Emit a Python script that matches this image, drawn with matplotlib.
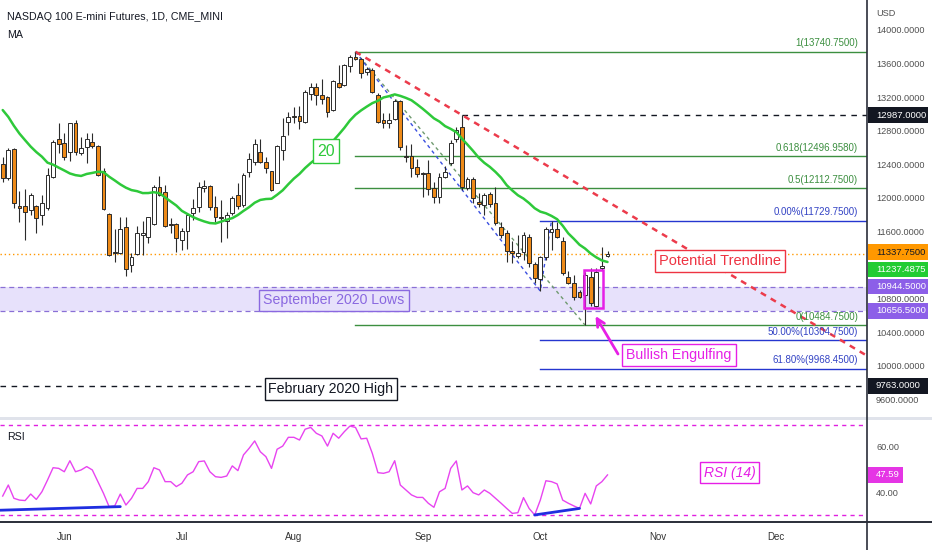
import numpy as np
import matplotlib
matplotlib.use("Agg")
import matplotlib.pyplot as plt
from matplotlib.patches import Rectangle
from matplotlib.lines import Line2D

# ---------------- data (NQ1! daily, 16 May - 19 Oct 2022) ----------------
opens = [12400, 12235, 12580, 11905, 11905, 11856, 11904, 11797, 11877, 12246,
         12698, 12658, 12551, 12889, 12539, 12610, 12670, 12622, 12324, 11809,
         11360, 11341, 11650, 11202, 11332, 11559, 11531, 11690, 12134, 12074,
         11690, 11690, 11499, 11606, 11817, 11896, 12115, 12146, 11896, 11777,
         11729, 11817, 12035, 11916, 12313, 12432, 12551, 12432, 12321, 12182,
         12571, 12908, 12976, 12976, 12908, 13238, 13325, 13226, 13198, 13047,
         13372, 13345, 13571, 13682, 13651, 13503, 13524, 13226, 12928, 12889,
         12936, 13158, 12500, 12500, 12372, 12300, 12300, 12115, 12015, 12253,
         12413, 12698, 12848, 12115, 12222, 11955, 11916, 12043, 11936, 11658,
         11586, 11372, 11309, 11360, 11531, 11213, 11031, 11300, 11598, 11627,
         11491, 11062, 10984, 10876, 10844, 11062, 10717, 11162, 11310]
highs = [12490, 12590, 12590, 12086, 12103, 12055, 11916, 12035, 12353, 12690,
         12889, 12770, 12896, 12928, 12729, 12770, 12770, 12630, 12353, 11817,
         11626, 11777, 11777, 11340, 11666, 11729, 11777, 12154, 12261, 12154,
         11757, 11698, 11638, 11817, 11984, 12193, 12214, 12154, 12023, 11976,
         11836, 12023, 12182, 12300, 12532, 12702, 12698, 12491, 12324, 12630,
         12952, 13027, 13087, 13095, 13285, 13365, 13372, 13413, 13214, 13405,
         13583, 13595, 13700, 13740.75, 13663, 13556, 13544, 13246, 13015, 13008,
         13175, 13166, 12630, 12642, 12460, 12313, 12451, 12193, 12293, 12380,
         12690, 12848, 12987.75, 12253, 12253, 12055, 12062, 12074, 12134, 11717,
         11618, 11491, 11559, 11598, 11571, 11241, 11310, 11658, 11729.75, 11717,
         11531, 11134, 11082, 10904, 11122, 11166, 11166, 11419, 11370]
lows = [12195, 12215, 11877, 11717, 11500, 11797, 11579, 11678, 11856, 12234,
        12532, 12451, 12443, 12511, 12511, 12420, 12591, 12261, 11856, 11309,
        11241, 11330, 11070, 11122, 11320, 11320, 11467, 11678, 12023, 11660,
        11579, 11360, 11380, 11388, 11737, 11836, 12074, 11856, 11717, 11479,
        11520, 11797, 11865, 11896, 12253, 12392, 12413, 12293, 12086, 12175,
        12451, 12750, 12889, 12817, 12896, 13166, 13107, 13119, 12967, 13039,
        13306, 13333, 13503, 13643, 13425, 13464, 13246, 12889, 12829, 12829,
        12928, 12571, 12432, 12253, 12253, 12015, 12035, 11936, 11936, 12234,
        12392, 12670, 12095, 12095, 11936, 11896, 11797, 11896, 11678, 11520,
        11241, 11222, 11281, 11261, 11181, 10984, 10895, 11261, 11380, 11520,
        11082, 10980, 10785, 10805, 10484.75, 10713, 10705, 11143, 11295]
closes = [12235, 12570, 11936, 11877, 11836, 12035, 11757, 11936, 12273, 12670,
          12642, 12484, 12889, 12551, 12598, 12705, 12619, 12273, 11865, 11320,
          11341, 11626, 11150, 11300, 11579, 11579, 11770, 12134, 12035, 11666,
          11674, 11527, 11610, 11797, 11877, 12134, 12146, 11889, 11770, 11757,
          11797, 12003, 11904, 12273, 12460, 12642, 12432, 12353, 12095, 12619,
          12738, 12967, 12960, 12920, 13265, 13325, 13226, 13175, 13027, 13393,
          13318, 13583, 13675, 13651, 13491, 13532, 13265, 12908, 12896, 12928,
          13158, 12610, 12484, 12353, 12285, 12285, 12103, 12015, 12253, 12313,
          12658, 12809, 12127, 12222, 11996, 11928, 12035, 11928, 11705, 11559,
          11372, 11348, 11348, 11559, 11222, 11043, 11298, 11627, 11627, 11531,
          11103, 10984, 10824, 10824, 11082, 10746, 11122, 11193, 11337.75]
# closes of the 19 sessions before the first visible bar (for the 20-day MA)
prior_closes = [14200, 14050, 13750, 13400, 13560, 13050, 13040, 13700, 13150, 13350,
                13160, 13600, 12950, 12790, 12230, 12370, 11990, 11960, 12400]
rsi = [38.2, 43.1, 37.2, 36.4, 36.2, 39.1, 36.7, 40.1, 45.3, 50.8,
       50.5, 49.0, 53.9, 49.0, 49.8, 51.3, 49.8, 44.6, 39.4, 33.5,
       33.8, 39.1, 34.2, 37.2, 41.6, 41.6, 44.6, 50.8, 49.8, 44.6,
       44.6, 42.4, 43.9, 47.6, 49.0, 53.5, 53.8, 49.0, 46.8, 46.5,
       47.1, 51.6, 49.5, 56.5, 59.4, 62.7, 57.9, 55.7, 50.5, 59.0,
       60.4, 64.3, 64.3, 63.1, 67.9, 68.7, 66.1, 64.9, 60.4, 66.1,
       63.9, 66.8, 69.3, 68.7, 63.6, 63.9, 57.2, 48.6, 48.3, 49.0,
       53.9, 43.1, 40.9, 38.7, 37.6, 37.6, 35.0, 33.2, 40.1, 41.6,
       50.5, 53.8, 40.9, 42.7, 39.7, 38.7, 40.9, 39.4, 37.2, 35.0,
       32.7, 30.5, 30.8, 37.5, 32.7, 29.8, 36.4, 45.0, 44.6, 43.6,
       36.4, 35.0, 33.8, 32.7, 39.4, 34.7, 42.7, 44.6, 47.59]

month_pos = [11, 32, 52, 75, 96, 117, 138]
month_labels = ['Jun', 'Jul', 'Aug', 'Sep', 'Oct', 'Nov', 'Dec']
price_ticks = [9600, 10000, 10400, 10800, 11200, 11600, 12000, 12400, 12800,
               13200, 13600, 14000]
hidden_ticks = [11200]          # covered by the price labels in the reference
rsi_ticks = [40, 60]
rsi_bands = [70, 30]

fib_high, fib_low, fib_start = 13740.75, 10484.75, 63
fib_ratios = [1, 0.618, 0.5, 0]
fib_low_idx = 104
ext_points_idx = [63, 96, 98]
ext_points_val = [13740.75, 10890.75, 11729.75]
ext_ratios = [0.0, 0.5, 0.618]
trend_idx = [63, 82]
trend_val = [13740.75, 12987.75]
sep_high_idx, sep_high = 82, 12987.0
zone_lo, zone_hi = 10656.5, 10944.5
feb_high = 9763.0
last_price = 11337.75
ma_len = 20
rsi_div = [([-0.5, 21], [31.9, 33.5]), ([95, 103], [29.8, 32.7])]

# ---------------- layout helpers ----------------
plt.rcParams['font.family'] = ['Liberation Sans', 'DejaVu Sans']
W, H = 932, 550
AXR = 867
PX0, PXS = 2.7, 5.6


def xi(px):
    return (px - PX0) / PXS


def yp(py):
    return 14357.2 - 11.908 * py


def yr(py):
    return 60 - (py - 447) / 2.25


fig = plt.figure(figsize=(W / 100, H / 100), dpi=100)
fig.patch.set_facecolor('white')
ax = fig.add_axes([0, 1 - 416 / H, AXR / W, 416 / H])
axr = fig.add_axes([0, 1 - 521 / H, AXR / W, (521 - 420) / H], sharex=ax)

for a in (ax, axr):
    for s in a.spines.values():
        s.set_visible(False)
    a.set_facecolor('white')

ax.set_xlim(xi(0), xi(AXR))
ax.set_ylim(yp(416), yp(0))
axr.set_ylim(yr(521), yr(420))

# ---------------- main panel ----------------
o = np.array(opens, float); h = np.array(highs, float)
l = np.array(lows, float); c = np.array(closes, float)
idx = np.arange(len(c))
up = c >= o
diff = np.abs(c - o)
bh = np.maximum(diff, 12)
blo = np.minimum(o, c) - (bh - diff) / 2

# purple zone
ax.axhspan(zone_lo, zone_hi, color='#e7e1fb', zorder=0.5, lw=0)
for v in (zone_lo, zone_hi):
    ax.axhline(v, color='#8a70d6', lw=0.9, ls=(0, (4, 3)), zorder=1)

# last price dotted line
ax.axhline(last_price, color='#ff9800', lw=1, ls=(0, (1, 2)), zorder=1)

# dashed black levels
ax.plot([sep_high_idx, xi(AXR) + 1], [sep_high, sep_high], color='#131722', lw=1,
        ls=(0, (4, 4)), zorder=1)
ax.axhline(feb_high, color='#131722', lw=1, ls=(0, (4, 4)), zorder=1)

# fib retracement (green)
green = '#3c8f40'
for r in fib_ratios:
    v = fib_low + r * (fib_high - fib_low)
    ax.plot([fib_start, xi(AXR) + 1], [v, v], color=green, lw=1, zorder=1.5)
    ax.annotate(f"{r:g}({v:.4f})", xy=(858 / W, v), xycoords=('figure fraction', 'data'),
                xytext=(0, 2.5), textcoords='offset points', ha='right', va='bottom',
                fontsize=7, color=green, zorder=6)
ax.plot([fib_start, fib_low_idx], [fib_high, fib_low], color='#6f9a6f', lw=1,
        ls=(0, (2.5, 2.5)), zorder=1.5)

# trend-based fib extension (blue)
blue = '#2536d0'
A, B, C = ext_points_val
ax.plot(ext_points_idx, ext_points_val, color='#3a4fe0', lw=1, ls=(0, (2.5, 2.5)), zorder=1.5)
for r in ext_ratios:
    v = C - r * (A - B)
    ax.plot([ext_points_idx[1], xi(AXR) + 1], [v, v], color=blue, lw=1, zorder=1.5)
    ax.annotate(f"{r * 100:.2f}%({v:.4f})", xy=(858 / W, v), xycoords=('figure fraction', 'data'),
                xytext=(0, 2.5), textcoords='offset points', ha='right', va='bottom',
                fontsize=7, color='#3343c4', zorder=6)

# red potential trendline
slope = (trend_val[1] - trend_val[0]) / (trend_idx[1] - trend_idx[0])
tx = np.array([trend_idx[0], xi(AXR) + 2])
ax.plot(tx, trend_val[0] + slope * (tx - trend_idx[0]), color='#ec3b4b', lw=1.8,
        ls=(0, (2.4, 2.2)), zorder=2)

# candles
ax.vlines(idx, l, h, color='#2b2b2b', lw=0.8, zorder=3)
ax.bar(idx, bh, bottom=blo, width=0.66, color=np.where(up, 'white', '#ee8a18'),
       edgecolor='#2b2b2b', linewidth=0.7, zorder=4)

# 20-day MA
allc = np.concatenate([np.array(prior_closes, float), c])
ma = np.convolve(allc, np.ones(ma_len) / ma_len, mode='valid')
ax.plot(idx, ma, color='#2ec93a', lw=1.8, zorder=5, solid_capstyle='round')

# pink highlight box + arrow
pink = '#e61fe6'
ax.add_patch(Rectangle((xi(584.3), yp(308)), xi(603.3) - xi(584.3), yp(270) - yp(308),
                       fill=False, ec=pink, lw=1.8, zorder=6))
ax.annotate('', xy=(xi(595.5), yp(316)), xytext=(xi(618), yp(354)),
            arrowprops=dict(arrowstyle='->', color=pink, lw=2, mutation_scale=14,
                            shrinkA=0, shrinkB=0), zorder=6)


# text boxes
def tbox(a, x, y, s, col, fc='white', size=10.5, **kw):
    a.text(x, y, s, ha='center', va='center', color=col, fontsize=size, zorder=7,
           bbox=dict(boxstyle='square,pad=0.28', fc=fc, ec=col, lw=1), **kw)


tbox(ax, xi(720), yp(261), 'Potential Trendline', '#ee3342')
tbox(ax, xi(334), yp(300.5), 'September 2020 Lows', '#8a68e0', fc='#e7e1fb', size=10.2)
tbox(ax, xi(331), yp(389), 'February 2020 High', '#131722', size=10.2)
tbox(ax, xi(679), yp(355), 'Bullish Engulfing', pink, size=10.2)
tbox(ax, xi(326), yp(151), str(ma_len), '#2ec93a', size=11.5)

# right axis of main panel
ax.yaxis.tick_right()
ax.set_yticks(price_ticks)
ax.set_yticklabels(['' if v in hidden_ticks else f"{v:.4f}" for v in price_ticks])
ax.tick_params(axis='y', length=0, pad=6.5, labelsize=6.6, labelcolor='#505050')
ax.tick_params(axis='x', bottom=False, labelbottom=False)

# ---------------- RSI panel ----------------
axr.plot(idx, rsi, color='#e844f0', lw=1, zorder=3)
for v in rsi_bands:
    axr.axhline(v, color='#e020e0', lw=1, ls=(0, (3, 3)), zorder=2)
for xs, ys in rsi_div:
    axr.plot(xs, ys, color='#1f2ee0', lw=2, zorder=4, solid_capstyle='round')
axr.text(xi(729.5), yr(472.5), 'RSI (14)', ha='center', va='center', color=pink,
         fontsize=10, style='italic', zorder=7,
         bbox=dict(boxstyle='square,pad=0.28', fc='white', ec=pink, lw=1))
axr.yaxis.tick_right()
axr.set_yticks(rsi_ticks)
axr.set_yticklabels([f"{v:.2f}" for v in rsi_ticks])
axr.tick_params(axis='y', length=0, pad=6.5, labelsize=6.6, labelcolor='#505050')
axr.set_xticks(month_pos)
axr.set_xticklabels(month_labels)
axr.tick_params(axis='x', length=0, pad=8, labelsize=7, labelcolor='#333333')

# ---------------- figure-level decorations ----------------
fig.patches.append(Rectangle((0, 1 - 419.5 / H), 1, 3 / H, transform=fig.transFigure,
                             fc='#e0e3eb', ec='none', zorder=1))
fig.lines.append(Line2D([AXR / W + 0.0004] * 2, [0, 1], transform=fig.transFigure,
                        color='#2a2e39', lw=1.2, zorder=2))
fig.lines.append(Line2D([0, 1], [1 - 521.5 / H] * 2, transform=fig.transFigure,
                        color='#2a2e39', lw=1.4, zorder=2))

fig.text(7 / W, 1 - 17 / H, 'NASDAQ 100 E-mini Futures, 1D, CME_MINI', fontsize=7.7,
         color='#131722', va='center', ha='left')
fig.text(7 / W, 1 - 35 / H, 'MA', fontsize=7.7, color='#131722', va='center', ha='left')
fig.text(7 / W, 1 - 437 / H, 'RSI', fontsize=7.7, color='#131722', va='center', ha='left')
fig.text(876 / W, 1 - 14 / H, 'USD', fontsize=6.6, color='#505050', va='center', ha='left')


def price_box(a, val, s, col, tcol='white', dy=0.0, w=60):
    ypix = a.transData.transform((0, val))[1] + dy
    fig.patches.append(Rectangle((868 / W, (ypix - 7.8) / H), w / W, 15.6 / H,
                                 transform=fig.transFigure, fc=col, ec='none', zorder=3))
    fig.text(876 / W, ypix / H, s, fontsize=6.8, color=tcol, va='center', ha='left', zorder=4)


price_box(ax, sep_high, f"{sep_high:.4f}", '#131722')
price_box(ax, last_price, f"{last_price:.4f}", '#ff9800', tcol='#131722', dy=1.5)
price_box(ax, ma[-1], f"{ma[-1]:.4f}", '#22cc33', dy=-7.5)
price_box(ax, zone_hi, f"{zone_hi:.4f}", '#8c5fe8')
price_box(ax, zone_lo, f"{zone_lo:.4f}", '#8c5fe8')
price_box(ax, feb_high, f"{feb_high:.4f}", '#131722')
price_box(axr, rsi[-1], f"{rsi[-1]:.2f}", '#e535e5', w=35)

fig.savefig('out.png', dpi=100, facecolor='white')
